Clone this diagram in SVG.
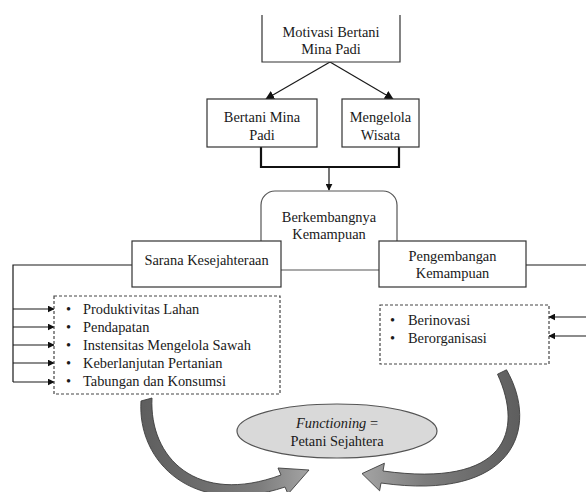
<svg xmlns="http://www.w3.org/2000/svg" width="586" height="492" viewBox="0 0 586 492">
  <style>
    text { font-family: "Liberation Serif", "Times New Roman", serif; font-size: 14.4px; fill: #1a1a1a; }
    .c { text-anchor: middle; }
    .box { fill: #ffffff; stroke: #333333; stroke-width: 1.2; }
    .dash { fill: #ffffff; stroke: #444444; stroke-width: 1.2; stroke-dasharray: 3 2; }
    .ln { fill: none; stroke: #1a1a1a; stroke-width: 1.2; }
    .thick { fill: none; stroke: #111111; stroke-width: 2.2; }
    .curve { stroke: #3d3d3d; stroke-width: 0.9; stroke-linejoin: round; }
  </style>
  <defs>
    <marker id="ah" viewBox="0 0 10 10" refX="9" refY="5" markerWidth="7" markerHeight="7" markerUnits="userSpaceOnUse" orient="auto">
      <path d="M0,0 L10,5 L0,10 Z" fill="#111111"/>
    </marker>
    <marker id="ahb" viewBox="0 0 10 10" refX="9" refY="5" markerWidth="9" markerHeight="9" markerUnits="userSpaceOnUse" orient="auto">
      <path d="M0,0 L10,5 L0,10 Z" fill="#111111"/>
    </marker>
    <linearGradient id="gL" x1="0" y1="0" x2="1" y2="0">
      <stop offset="0" stop-color="#5e5e5e"/>
      <stop offset="0.7" stop-color="#7c7c7c"/>
      <stop offset="1" stop-color="#a4a4a4"/>
    </linearGradient>
    <linearGradient id="gR" x1="1" y1="0" x2="0" y2="0">
      <stop offset="0" stop-color="#5e5e5e"/>
      <stop offset="0.6" stop-color="#7c7c7c"/>
      <stop offset="1" stop-color="#a4a4a4"/>
    </linearGradient>
  </defs>

  <!-- connectors -->
  <g id="connectors">
    <line class="ln" x1="330" y1="62" x2="266" y2="99" marker-end="url(#ahb)"/>
    <line class="ln" x1="330" y1="62" x2="393" y2="99" marker-end="url(#ahb)"/>
    <path class="thick" d="M261,147 V167 H399 V147"/>
    <line class="ln" x1="329" y1="167" x2="329" y2="190" marker-end="url(#ah)"/>
    <!-- left feed into the welfare list -->
    <path class="ln" d="M132,265 H13 V382"/>
    <line class="ln" x1="13" y1="309" x2="54" y2="309" marker-end="url(#ah)"/>
    <line class="ln" x1="13" y1="327" x2="54" y2="327" marker-end="url(#ah)"/>
    <line class="ln" x1="13" y1="345" x2="54" y2="345" marker-end="url(#ah)"/>
    <line class="ln" x1="13" y1="363" x2="54" y2="363" marker-end="url(#ah)"/>
    <line class="ln" x1="13" y1="382" x2="54" y2="382" marker-end="url(#ah)"/>
    <!-- right feed into the capability list -->
    <path class="ln" d="M526,265 H587 V336"/>
    <line class="ln" x1="587" y1="317" x2="549" y2="317" marker-end="url(#ah)"/>
    <line class="ln" x1="587" y1="336" x2="549" y2="336" marker-end="url(#ah)"/>
    <!-- curved block arrows toward the outcome -->
    <path class="curve" fill="url(#gL)" d="M141,401 L152,398 C149,458 197,506 281,475 L278,468 L309,470 L288,494 L285,487 C193,518 137,462 141,401 Z"/>
    <path class="curve" fill="url(#gR)" d="M506.5,369.8 C540,428 514,502 381,483 L379.6,490.8 L362,473.6 L384.4,463.2 L383,471 C506,488 524,432 497.5,374.2 Z"/>
  </g>

  <g id="motivasi">
    <path class="box" d="M262,15 V62 H400 V15"/>
    <text class="c" x="331" y="37">Motivasi Bertani</text>
    <text class="c" x="331" y="54">Mina Padi</text>
  </g>

  <g id="bertani">
    <rect class="box" x="207" y="99" width="110" height="48"/>
    <text class="c" x="262" y="122">Bertani Mina</text>
    <text class="c" x="262" y="140">Padi</text>
  </g>

  <g id="wisata">
    <rect class="box" x="342" y="99" width="77" height="48"/>
    <text class="c" x="380.5" y="122">Mengelola</text>
    <text class="c" x="380.5" y="140">Wisata</text>
  </g>

  <g id="berkembang">
    <rect x="261" y="191" width="136" height="79" rx="14" ry="14" fill="#ffffff" stroke="#555555" stroke-width="1.2"/>
    <text class="c" x="329" y="222">Berkembangnya</text>
    <text class="c" x="329" y="239">Kemampuan</text>
  </g>

  <g id="sarana">
    <rect class="box" x="132" y="241" width="149" height="46"/>
    <text class="c" x="206.5" y="265">Sarana Kesejahteraan</text>
  </g>

  <g id="pengembangan">
    <rect class="box" x="379" y="241" width="147" height="46"/>
    <text class="c" x="452.5" y="261">Pengembangan</text>
    <text class="c" x="452.5" y="278">Kemampuan</text>
  </g>

  <g id="daftar-kesejahteraan">
    <rect class="dash" x="54" y="296" width="226" height="98"/>
    <text x="66" y="314">•</text><text x="83" y="314">Produktivitas Lahan</text>
    <text x="66" y="332">•</text><text x="83" y="332">Pendapatan</text>
    <text x="66" y="350">•</text><text x="83" y="350">Instensitas Mengelola Sawah</text>
    <text x="66" y="368">•</text><text x="83" y="368">Keberlanjutan Pertanian</text>
    <text x="66" y="386">•</text><text x="83" y="386">Tabungan dan Konsumsi</text>
  </g>

  <g id="daftar-kemampuan">
    <rect class="dash" x="380" y="305" width="169" height="59"/>
    <text x="390" y="325">•</text><text x="408" y="325">Berinovasi</text>
    <text x="390" y="343">•</text><text x="408" y="343">Berorganisasi</text>
  </g>

  <g id="functioning">
    <ellipse cx="337" cy="431" rx="100" ry="27" fill="#d9d9d9" stroke="#555555" stroke-width="1.2"/>
    <text class="c" x="337" y="428"><tspan font-style="italic">Functioning</tspan> =</text>
    <text class="c" x="337" y="446">Petani Sejahtera</text>
  </g>
</svg>
